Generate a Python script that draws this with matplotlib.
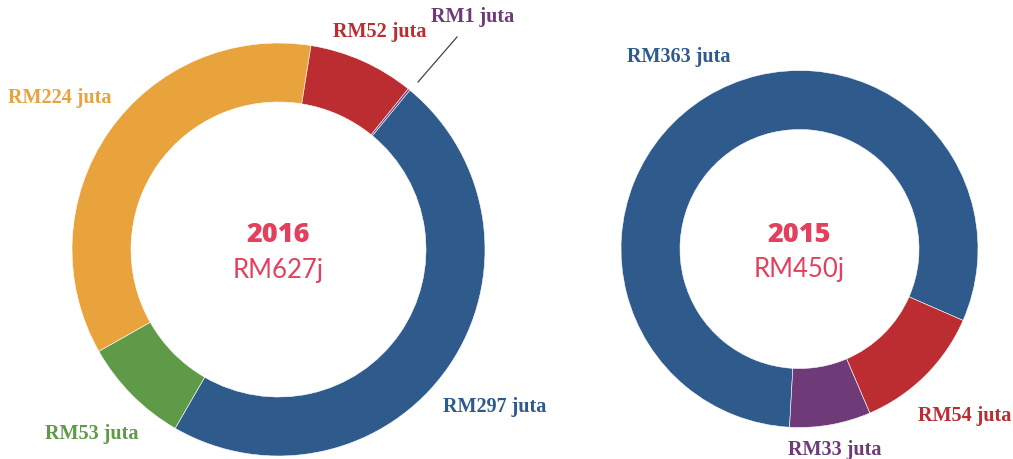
import matplotlib
matplotlib.use("Agg")
import matplotlib.pyplot as plt

# Spending breakdown by year (RM million)
labels_2016 = ["RM297 juta", "RM53 juta", "RM224 juta", "RM52 juta", "RM1 juta"]
values_2016 = [297, 53, 224, 52, 1]
colors_2016 = ["#2E5A8C", "#5E9A48", "#E8A33D", "#BC2D32", "#6E3B78"]

labels_2015 = ["RM363 juta", "RM54 juta", "RM33 juta"]
values_2015 = [363, 54, 33]
colors_2015 = ["#2E5A8C", "#BC2D32", "#6E3B78"]

years = ["2016", "2015"]
totals = ["RM627j", "RM450j"]

W, H = 1013, 459
fig = plt.figure(figsize=(W / 100, H / 100), dpi=100)
ax = fig.add_axes([0, 0, 1, 1])

def Y(y):
    return H - y

ring = 59
wp = dict(width=ring, edgecolor="white", linewidth=0.4)

# 2016 donut
c1 = (278.5, Y(249.5))
ax.pie(values_2016, colors=colors_2016, radius=206.5, center=c1,
       startangle=50.5, counterclock=False, wedgeprops=wp, frame=True)

# 2015 donut
c2 = (799.5, Y(249))
ax.pie(values_2015, colors=colors_2015, radius=178.5, center=c2,
       startangle=-93.2, counterclock=False, wedgeprops=wp, frame=True)

ax.set_xlim(0, W)
ax.set_ylim(0, H)
ax.set_aspect("equal")
ax.axis("off")

serif = ["Liberation Serif", "DejaVu Serif"]
lab_fs = 14.5

def slice_label(text, x, y, color):
    ax.text(x, Y(y), text, color=color, fontsize=lab_fs, fontweight="bold",
            family=serif, ha="center", va="center")

pos_2016 = [(495, 407), (92, 434), (60, 98), (380, 32), (473, 17)]
for t, (x, y), col in zip(labels_2016, pos_2016, colors_2016):
    slice_label(t, x, y, col)

pos_2015 = [(679, 57), (965, 416), (835, 450)]
for t, (x, y), col in zip(labels_2015, pos_2015, colors_2015):
    slice_label(t, x, y, col)

# leader line for the tiny slice
ax.plot([418, 457], [Y(82), Y(37)], color="#444444", linewidth=0.9)

# centre captions
pink = "#E3405E"
for (cx, cy), yr, tot in zip([c1, c2], years, totals):
    ax.text(cx, cy + 14, yr, color=pink, fontsize=19.5, fontweight="heavy",
            family="Open Sans", ha="center", va="center")
    ax.text(cx, cy - 21, tot, color=pink, fontsize=18.5,
            family="Lato", ha="center", va="center")

fig.savefig("out.png", dpi=100, facecolor="white")
